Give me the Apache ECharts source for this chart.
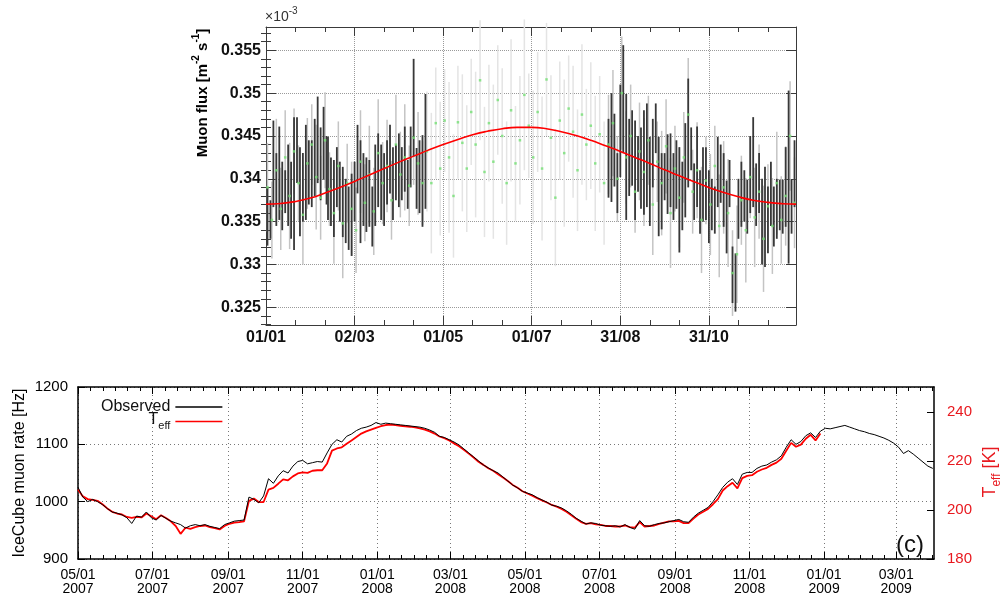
<!DOCTYPE html>
<html><head><meta charset="utf-8">
<script src="https://cdn.jsdelivr.net/npm/echarts@6/dist/echarts.min.js"></script>
<style>html,body{margin:0;padding:0;background:#fff}#c{width:1003px;height:599px}</style>
</head><body><div id="c"></div>
<script>
// ===== Top panel: muon flux vs day of year =====
const topXTickDays = [0, 60, 120, 180, 240, 300];
const topXTickLabels = ['01/01', '02/03', '01/05', '01/07', '31/08', '31/10'];
const topYTicks = [0.325, 0.33, 0.335, 0.34, 0.345, 0.35, 0.355];
const topYTickLabels = ['0.325', '0.33', '0.335', '0.34', '0.345', '0.35', '0.355'];

// dark error bars (day, low, high)
const darkDay = [1,3,5,7,9,11,13,15,17,19,21,23,25,27,29,31,33,35,37,39,41,42,44,46,48,50,52,54,56,58,60,62,64,66,68,70,72,74,76,78,80,82,84,86,88,90,92,94,96,98,100,102,104,106,108,
  232,234,236,238,240,242,244,246,248,250,252,254,256,258,260,262,264,266,268,270,272,274,276,278,280,282,284,286,288,290,292,294,296,298,300,302,304,306,308,310,312,314,316,318,320,322,324,326,328,330,332,334,336,338,340,342,344,346,348,350,352,354,356,358];
const darkLow = [.3322,.3330,.3367,.3345,.3352,.3340,.3360,.3345,.3330,.3317,.3395,.3333,.3350,.3352,.3370,.3367,.3380,.3395,.3375,.3399,.3370,.3352,.3345,.3332,.3367,.3350,.3332,.3325,.3317,.3310,.3350,.3383,.3325,.3345,.3338,.3344,.3321,.3345,.3367,.3352,.3345,.3370,.3383,.3352,.3375,.3367,.3375,.3385,.3365,.3390,.3426,.3365,.3360,.3344,.3365,
  .3378,.3373,.3391,.3360,.3402,.3430,.3352,.3380,.3392,.3352,.3385,.3365,.3358,.3367,.3345,.3390,.3430,.3333,.3341,.3375,.3359,.3367,.3352,.3365,.3314,.3340,.3355,.3390,.3410,.3352,.3367,.3336,.3350,.3352,.3325,.3340,.3336,.3367,.3372,.3344,.3313,.3367,.3255,.3245,.3330,.3344,.3350,.3336,.3360,.3367,.3345,.3360,.3300,.3297,.3313,.3345,.3321,.3330,.3340,.3336,.3344,.3301,.3336,.3367];
const darkHigh = [.3390,.3375,.3468,.3430,.3461,.3420,.3410,.3440,.3420,.3472,.3472,.3437,.3430,.3463,.3445,.3445,.3470,.3496,.3460,.3484,.3450,.3449,.3425,.3422,.3437,.3420,.3414,.3400,.3391,.3406,.3420,.3463,.3445,.3430,.3425,.3422,.3391,.3440,.3453,.3440,.3430,.3445,.3463,.3437,.3440,.3453,.3437,.3461,.3422,.3461,.3540,.3436,.3445,.3451,.3499,
  .3470,.3500,.3476,.3430,.3510,.3556,.3499,.3470,.3480,.3468,.3450,.3460,.3480,.3488,.3449,.3470,.3488,.3449,.3430,.3430,.3452,.3453,.3430,.3445,.3437,.3420,.3465,.3517,.3460,.3418,.3461,.3410,.3437,.3437,.3410,.3400,.3391,.3449,.3440,.3430,.3398,.3422,.3321,.3313,.3400,.3420,.3410,.3399,.3450,.3472,.3418,.3430,.3400,.3414,.3391,.3420,.3391,.3400,.3399,.3399,.3437,.3503,.3399,.3445];

// light error bars every 3 days from day 1 (centre = green marker, half length)
const lightStartDay = 1, lightStepDays = 3;
const lightCenter = [.3390,.3352,.3410,.3365,.3425,.3380,.3432,.3395,.3358,.3418,.3440,.3402,.3378,.3445,.3388,.3360,.3415,.3348,.3395,.3365,.3340,.3420,.3372,.3405,.3362,.3430,.3395,.3415,.3375,.3440,.3405,.3425,.3392,.3448,.3418,.3395,
  .3432,.3395,.3465,.3412,.3468,.3425,.3380,.3466,.3442,.3412,.3478,.3440,.3515,.3408,.3465,.3420,.3492,.3450,.3395,.3480,.3418,.3445,.3498,.3462,.3425,.3478,.3412,.3516,.3448,.3378,.3468,.3430,.3482,.3455,.3410,.3475,.3440,.3462,.3418,.3452,.3395,
  .3440,.3465,.3400,.3500,.3425,.3450,.3385,.3432,.3408,.3445,.3370,.3420,.3395,.3438,.3360,.3412,.3378,.3425,.3475,.3385,.3410,.3352,.3398,.3370,.3415,.3345,.3390,.3360,.3290,.3312,.3375,.3340,.3402,.3355,.3385,.3330,.3368,.3345,.3395,.3352,.3380,.3450,.3372];
const lightHalf = [.0052,.0045,.0060,.0048,.0055,.0062,.0050,.0044,.0058,.0053,.0047,.0061,.0049,.0056,.0043,.0059,.0052,.0064,.0046,.0055,.0050,.0060,.0045,.0057,.0051,.0063,.0048,.0054,.0046,.0058,.0050,.0062,.0047,.0055,.0060,.0049,
  .0070,.0082,.0065,.0078,.0060,.0088,.0072,.0066,.0080,.0074,.0062,.0085,.0070,.0076,.0068,.0090,.0064,.0079,.0072,.0083,.0067,.0075,.0088,.0061,.0078,.0070,.0084,.0066,.0073,.0080,.0069,.0086,.0062,.0077,.0071,.0082,.0065,.0074,.0079,.0068,.0072,
  .0058,.0062,.0050,.0066,.0054,.0060,.0048,.0057,.0063,.0052,.0059,.0047,.0061,.0055,.0064,.0050,.0058,.0053,.0066,.0049,.0056,.0062,.0051,.0059,.0047,.0060,.0054,.0063,.0050,.0057,.0052,.0061,.0048,.0058,.0055,.0062,.0049,.0056,.0060,.0051,.0058,.0064,.0053];

// red fit curve
const fitDay = [0,10,20,30,40,50,60,70,80,90,100,110,120,130,140,150,160,170,180,190,200,210,220,230,240,250,260,270,280,290,300,310,320,330,340,350,359];
const fitFlux = [.33705,.33712,.33735,.33775,.33835,.33900,.33970,.34045,.34120,.34195,.34265,.34335,.34400,.34460,.34515,.34555,.34585,.34600,.34600,.34585,.34550,.34505,.34450,.34385,.34320,.34250,.34180,.34105,.34035,.33965,.33900,.33840,.33790,.33750,.33725,.33710,.33705];

// ===== Bottom panel: IceCube muon rate, days since 05/01/2007 =====
const botXTickDays = [0, 61, 123, 184, 245, 305, 366, 427, 489, 550, 611, 670];
const botXTickLabels = ['05/01\n2007','07/01\n2007','09/01\n2007','11/01\n2007','01/01\n2008','03/01\n2008','05/01\n2008','07/01\n2008','09/01\n2008','11/01\n2008','01/01\n2009','03/01\n2009'];
const rateYTicks = [900, 1000, 1100, 1200];
const rateYTickLabels = ['900', '1000', '1100', '1200'];
const teffYTicks = [180, 200, 220, 240];
const teffYTickLabels = ['180', '200', '220', '240'];
const obsStepDays = 4;
const observedRate = [1025,1008,1000,1004,1000,995,988,982,980,977,972,962,975,973,982,972,968,976,971,966,963,960,954,958,960,958,960,957,955,953,960,963,966,967,968,1008,1004,998,1010,1040,1032,1045,1054,1050,1062,1070,1072,1066,1068,1070,1069,1085,1100,1108,1104,1114,1118,1124,1128,1130,1133,1138,1135,1137,1136,1135,1134,1133,1132,1131,1130,1128,1125,1121,1114,1112,1108,1104,1099,1092,1085,1078,1071,1064,1059,1054,1050,1043,1036,1029,1024,1018,1015,1012,1007,1003,999,994,992,989,984,978,971,966,961,963,962,959,958,957,958,956,960,955,952,967,958,957,960,962,963,965,967,969,965,964,973,980,985,990,1000,1012,1025,1034,1040,1030,1048,1051,1051,1058,1062,1064,1069,1073,1080,1095,1108,1100,1105,1115,1120,1112,1123,1128,1127,1129,1131,1133,1130,1127,1124,1122,1119,1117,1114,1111,1107,1102,1095,1084,1089,1083,1076,1069,1062,1058];
const teffK = [208.4,205.6,204.5,204.2,203.8,202.4,200.7,199.3,198.6,198.2,197.2,196.8,197.2,197.0,198.6,197.5,196.3,197.9,196.8,195.4,193.5,190.3,192.8,192.3,193.0,193.5,193.7,193.0,192.6,192.1,193.5,194.4,194.9,195.1,195.4,203.8,204.7,203.3,203.3,208.4,209.1,210.8,212.6,212.2,213.8,215.0,215.4,215.2,216.1,216.3,216.3,219.1,224.3,225.2,225.7,227.1,228.5,229.9,231.3,232.2,232.9,233.6,234.3,234.8,235.0,
  234.8,234.5,234.3,234.1,233.8,233.4,232.9,232.2,231.3,230.1,229.4,228.5,227.3,226.1,224.7,223.1,221.5,219.8,218.5,217.1,216.1,214.7,213.3,211.9,210.3,209.1,207.7,206.8,205.9,204.9,204.0,203.1,202.1,201.4,200.5,199.3,197.9,196.5,195.1,194.4,194.7,194.2,194.0,193.5,193.5,193.3,193.3,193.7,193.0,192.8,195.1,193.3,193.5,193.7,194.4,194.9,195.4,195.4,195.6,194.7,194.7,196.5,198.2,199.3,200.5,202.4,
  204.5,208.0,209.8,211.2,208.9,213.1,214.0,214.3,215.7,216.6,217.3,218.5,219.4,221.0,224.3,227.5,225.9,226.8,229.2,230.8,228.5,231.3];

// ===== build =====
const FONT = "'Liberation Sans', Arial, Helvetica, sans-serif";
const topXMinor = [];
for (let d = 20; d < 359; d += 20) if (d % 60 !== 0) topXMinor.push(d);
const topYMinor = [];
for (let k = 323; k <= 357; k++) if (k % 5 !== 0) topYMinor.push(k / 1000);
const botXMinor = [];
for (let i = 0; i < botXTickDays.length; i++) {
  const a = botXTickDays[i];
  const b = i + 1 < botXTickDays.length ? botXTickDays[i + 1] : a + (a - botXTickDays[i - 1]);
  for (let k = 1; k < 6; k++) { const v = a + (b - a) * k / 6; if (v < 701) botXMinor.push(v); }
}

const darkData = darkDay.map((d, i) => [d, darkLow[i], darkHigh[i]]);
const lightData = lightCenter.map((c, i) => [lightStartDay + i * lightStepDays, c - lightHalf[i], c + lightHalf[i]]);
const greenData = lightCenter.map((c, i) => [lightStartDay + i * lightStepDays, c]);
const fitData = fitDay.map((d, i) => [d, fitFlux[i]]);
const obsData = observedRate.map((v, i) => [i * obsStepDays, v]);
const teffData = teffK.map((v, i) => [i * obsStepDays, v]);

function ax(o) {
  return Object.assign({ type: 'value', axisLine: { show: false }, axisTick: { show: false },
    axisLabel: { show: false }, splitLine: { show: false }, splitArea: { show: false } }, o);
}
const topLine = { show: true, onZero: false, lineStyle: { color: '#3a3a3a', width: 1 } };
const topTick = (vals, len) => ({ show: true, inside: true, length: len, customValues: vals, lineStyle: { color: '#3a3a3a', width: 1 } });
const botLine = { show: true, onZero: false, lineStyle: { color: '#000', width: 1.5 } };
const botTick = (vals, len) => ({ show: true, inside: true, length: len, customValues: vals, lineStyle: { color: '#000', width: 1 } });
const TXR = { min: 0, max: 359 }, TYR = { min: 0.32294, max: 0.35772 };
const BXR = { min: 0, max: 701 };

function barRender(isDark) {
  return function (params, api) {
    const x = api.value(0);
    const p1 = api.coord([x, api.value(1)]);
    const p2 = api.coord([x, api.value(2)]);
    let color = isDark ? '#383838' : ((x > 107 && x < 231) ? '#e4e4e4' : '#c4c4c4');
    return { type: 'line', shape: { x1: p1[0], y1: p1[1], x2: p2[0], y2: p2[1] },
      style: { stroke: color, lineWidth: isDark ? 1.8 : 1.5 } };
  };
}

const option = {
  animation: false,
  backgroundColor: '#fff',
  textStyle: { fontFamily: FONT },
  grid: [
    { left: 266, top: 27, width: 530, height: 298 },
    { left: 78, top: 387, width: 856, height: 172 }
  ],
  xAxis: [
    ax(Object.assign({ gridIndex: 0, position: 'bottom', axisLine: topLine, axisTick: topTick(topXTickDays, 9),
      axisLabel: { show: true, customValues: topXTickDays, margin: 5, fontSize: 16, fontWeight: 'bold', color: '#111', fontFamily: FONT,
        formatter: v => topXTickLabels[topXTickDays.indexOf(v)] || '' },
      splitLine: { show: true, lineStyle: { type: 'dotted', color: '#9a9a9a', width: 1 } } }, TXR)),
    ax(Object.assign({ gridIndex: 0, position: 'bottom', axisTick: topTick(topXMinor, 5) }, TXR)),
    ax(Object.assign({ gridIndex: 0, position: 'top', axisLine: topLine, axisTick: topTick(topXTickDays, 9) }, TXR)),
    ax(Object.assign({ gridIndex: 0, position: 'top', axisTick: topTick(topXMinor, 5) }, TXR)),
    ax(Object.assign({ gridIndex: 1, position: 'bottom', axisLine: botLine, axisTick: botTick(botXTickDays, 7),
      axisLabel: { show: true, customValues: botXTickDays, margin: 9, fontSize: 14, lineHeight: 14, color: '#000', fontFamily: FONT,
        formatter: v => botXTickLabels[botXTickDays.indexOf(v)] || '' },
      splitLine: { show: true, lineStyle: { type: [1, 3], color: '#777', width: 1 } } }, BXR)),
    ax(Object.assign({ gridIndex: 1, position: 'bottom', axisTick: botTick(botXMinor, 4) }, BXR)),
    ax(Object.assign({ gridIndex: 1, position: 'top', axisLine: botLine, axisTick: botTick(botXTickDays, 7) }, BXR)),
    ax(Object.assign({ gridIndex: 1, position: 'top', axisTick: botTick(botXMinor, 4) }, BXR))
  ],
  yAxis: [
    ax(Object.assign({ gridIndex: 0, position: 'left', axisLine: topLine, axisTick: topTick(topYTicks, 10),
      axisLabel: { show: true, customValues: topYTicks, margin: 5, fontSize: 16, fontWeight: 'bold', color: '#111', fontFamily: FONT,
        formatter: v => topYTickLabels[topYTicks.indexOf(v)] || '' },
      splitLine: { show: true, lineStyle: { type: 'dotted', color: '#9a9a9a', width: 1 } } }, TYR)),
    ax(Object.assign({ gridIndex: 0, position: 'left', axisTick: topTick(topYMinor, 5) }, TYR)),
    ax(Object.assign({ gridIndex: 0, position: 'right', axisLine: topLine, axisTick: topTick(topYTicks, 10) }, TYR)),
    ax(Object.assign({ gridIndex: 0, position: 'right', axisTick: topTick(topYMinor, 5) }, TYR)),
    ax({ gridIndex: 1, position: 'left', min: 900, max: 1200, axisLine: botLine, axisTick: botTick(rateYTicks, 7),
      axisLabel: { show: true, customValues: rateYTicks, margin: 10, fontSize: 15, color: '#000', fontFamily: FONT,
        formatter: v => rateYTickLabels[rateYTicks.indexOf(v)] || '' },
      splitLine: { show: true, lineStyle: { type: [1, 3], color: '#777', width: 1 } } }),
    ax({ gridIndex: 1, position: 'right', min: 180, max: 250.35, axisLine: botLine, axisTick: botTick(teffYTicks, 7),
      axisLabel: { show: true, customValues: teffYTicks, margin: 13, fontSize: 15, color: '#e8191f', fontFamily: FONT,
        formatter: v => teffYTickLabels[teffYTicks.indexOf(v)] || '' } })
  ],
  legend: {
    data: [{ name: 'Observed', icon: 'rect' }, { name: 'T_eff', icon: 'rect' }],
    orient: 'vertical', align: 'right', left: 96, top: 394,
    itemWidth: 47, itemHeight: 1.5, itemGap: -3, selectedMode: false,
    textStyle: { fontSize: 16, color: '#111', fontFamily: FONT,
      rich: { T: { fontSize: 16, verticalAlign: 'top', fontFamily: FONT, color: '#111' },
              s: { fontSize: 11, padding: [8, 0, 0, 0], verticalAlign: 'top', fontFamily: FONT, color: '#111' } } },
    formatter: n => n === 'T_eff' ? '{T|T}{s|eff}' : n
  },
  series: [
    { type: 'custom', name: 'light', xAxisIndex: 0, yAxisIndex: 0, data: lightData, encode: { x: 0, y: [1, 2] },
      renderItem: barRender(false), z: 1, silent: true },
    { type: 'custom', name: 'dark', xAxisIndex: 0, yAxisIndex: 0, data: darkData, encode: { x: 0, y: [1, 2] },
      renderItem: barRender(true), z: 2, silent: true },
    { type: 'scatter', name: 'marker', xAxisIndex: 0, yAxisIndex: 0, data: greenData, symbol: 'rect', symbolSize: 2.5,
      itemStyle: { color: '#74e074' }, z: 3, silent: true },
    { type: 'line', name: 'fit', xAxisIndex: 0, yAxisIndex: 0, data: fitData, smooth: true, symbol: 'none',
      lineStyle: { color: '#ff0000', width: 1.6 }, z: 4, silent: true },
    { type: 'line', name: 'T_eff', xAxisIndex: 4, yAxisIndex: 5, data: teffData, symbol: 'none', color: '#ff0000',
      itemStyle: { color: '#ff0000' }, lineStyle: { color: '#ff0000', width: 1.8 }, z: 2, silent: true },
    { type: 'line', name: 'Observed', xAxisIndex: 4, yAxisIndex: 4, data: obsData, symbol: 'none', color: '#000',
      itemStyle: { color: '#000' }, lineStyle: { color: '#000', width: 1 }, z: 3, silent: true }
  ],
  graphic: [
    { type: 'text', x: 265, y: 6, z: 10, style: { text: '{a|×10}{b|-3}', fill: '#333', align: 'left', textAlign: 'left', verticalAlign: 'top', textVerticalAlign: 'top',
      rich: { a: { fontSize: 14, fontFamily: FONT, color: '#333', padding: [4, 0, 0, 0], verticalAlign: 'top' },
              b: { fontSize: 10, fontFamily: FONT, color: '#333', verticalAlign: 'top' } } } },
    { type: 'text', x: 201, y: 93, rotation: Math.PI / 2, z: 10, style: { text: '{a|Muon flux [m}{b|-2}{a| s}{b|-1}{a|]}', fill: '#000',
      align: 'center', textAlign: 'center', verticalAlign: 'middle', textVerticalAlign: 'middle',
      rich: { a: { fontSize: 15, fontWeight: 'bold', fontFamily: FONT, color: '#000', padding: [4, 0, 0, 0], verticalAlign: 'top' },
              b: { fontSize: 10, fontWeight: 'bold', fontFamily: FONT, color: '#000', verticalAlign: 'top' } } } },
    { type: 'text', x: 20, y: 473, rotation: Math.PI / 2, z: 10, style: { text: 'IceCube muon rate [Hz]', fill: '#000',
      font: '16px ' + FONT, align: 'center', textAlign: 'center', verticalAlign: 'middle', textVerticalAlign: 'middle' } },
    { type: 'text', x: 992, y: 472, rotation: Math.PI / 2, z: 10, style: { text: '{a|T}{b|eff}{a| [K]}', fill: '#e8191f',
      align: 'center', textAlign: 'center', verticalAlign: 'middle', textVerticalAlign: 'middle',
      rich: { a: { fontSize: 18, fontFamily: FONT, color: '#e8191f', verticalAlign: 'top' },
              b: { fontSize: 12, fontFamily: FONT, color: '#e8191f', padding: [9, 0, 0, 0], verticalAlign: 'top' } } } },
    { type: 'text', x: 910, y: 545, z: 10, style: { text: '(c)', fill: '#111', font: '24px ' + FONT,
      align: 'center', textAlign: 'center', verticalAlign: 'middle', textVerticalAlign: 'middle' } }
  ]
};
const chart = echarts.init(document.getElementById('c'), null, { renderer: 'canvas' });
chart.setOption(option);
</script>
</body></html>
